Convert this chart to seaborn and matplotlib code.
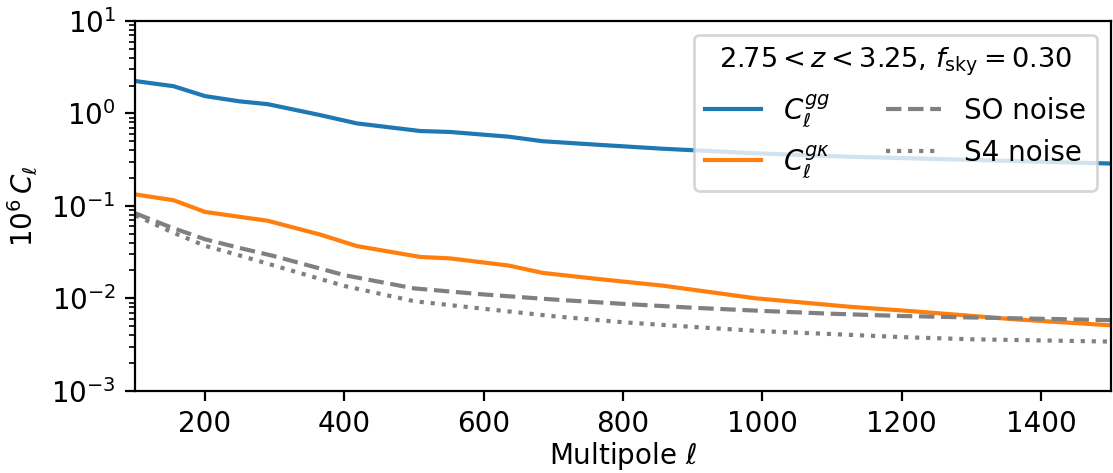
import matplotlib
matplotlib.use("Agg")
import matplotlib.pyplot as plt
import seaborn as sns
import pandas as pd

# Signal spectra (binned multipoles)
ell_sig = [100, 155, 200, 250, 290, 365, 418, 509, 552, 636, 685, 770, 857, 990, 1125, 1220, 1365, 1500]
cl_gg = [2.24, 1.97, 1.54, 1.35, 1.26, 0.96, 0.78, 0.645, 0.63, 0.56, 0.50, 0.455, 0.415, 0.37, 0.34, 0.326, 0.305, 0.287]
cl_gk = [0.133, 0.115, 0.086, 0.076, 0.069, 0.049, 0.0367, 0.028, 0.027, 0.0226, 0.0188, 0.0160, 0.0137, 0.0100, 0.0081, 0.0072, 0.0059, 0.0051]

# Noise curves
ell_noise = [100, 150, 200, 250, 300, 400, 500, 600, 700, 800, 900, 1000, 1100, 1200, 1300, 1400, 1500]
so_noise = [0.083, 0.059, 0.0435, 0.035, 0.0285, 0.0178, 0.0128, 0.0110, 0.0097, 0.0087, 0.0079, 0.0073, 0.0068, 0.00643, 0.0062, 0.0060, 0.0058]
s4_noise = [0.079, 0.053, 0.037, 0.029, 0.0225, 0.0136, 0.0093, 0.0077, 0.0064, 0.0055, 0.0049, 0.0044, 0.0041, 0.0038, 0.0036, 0.0035, 0.0034]

labels = [r"$C_\ell^{gg}$", r"$C_\ell^{g\kappa}$", "SO noise", "S4 noise"]
legend_title = r"$2.75 < z < 3.25$, $f_{\rm sky} = 0.30$"

plt.rcParams["font.family"] = ["DejaVu Sans"]
plt.rcParams["mathtext.fontset"] = "dejavusans"

fig = plt.figure(figsize=(1113 / 200, 473 / 200), dpi=200)
ax = fig.add_axes([135.3 / 1113, 1 - 390.7 / 473, (1110.7 - 135.3) / 1113, (390.7 - 21) / 473])

sig = pd.DataFrame({"ell": ell_sig, "gg": cl_gg, "gk": cl_gk})
noi = pd.DataFrame({"ell": ell_noise, "so": so_noise, "s4": s4_noise})

sns.lineplot(data=sig, x="ell", y="gg", ax=ax, color="#1f77b4", lw=1.5, label=labels[0])
sns.lineplot(data=sig, x="ell", y="gk", ax=ax, color="#ff7f0e", lw=1.5, label=labels[1])
sns.lineplot(data=noi, x="ell", y="so", ax=ax, color="gray", lw=1.5, linestyle="--", label=labels[2])
sns.lineplot(data=noi, x="ell", y="s4", ax=ax, color="gray", lw=1.5, linestyle=":", label=labels[3])

ax.set_yscale("log")
ax.set_xlim(100, 1500)
ax.set_ylim(1e-3, 10)
ax.set_xlabel(r"Multipole $\ell$", fontsize=10, labelpad=0.5)
ax.set_ylabel(r"$10^6\,C_\ell$", fontsize=10)
ax.tick_params(labelsize=10)

leg = ax.legend(ncol=2, loc="upper right", title=legend_title, fontsize=10,
                title_fontsize=9.8, frameon=True, framealpha=0.8)

fig.savefig("out.png", dpi=200)
